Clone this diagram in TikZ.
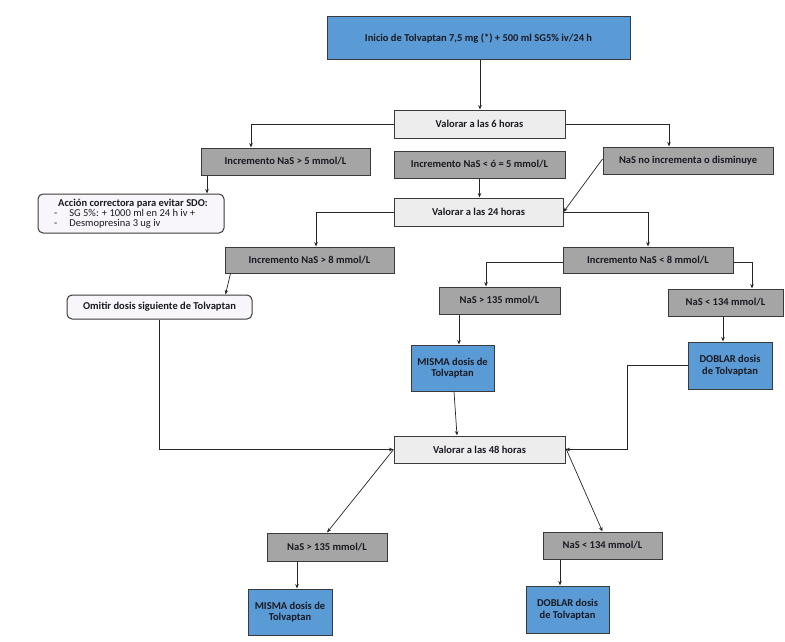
\documentclass[tikz,border=0pt]{standalone}
\usepackage{fontspec}
\setmainfont{Carlito}
\usetikzlibrary{arrows.meta,calc}
\definecolor{bluebox}{HTML}{5B9BD5}
\definecolor{graybox}{HTML}{A5A5A5}
\definecolor{lightbox}{HTML}{EDEDED}
\definecolor{roundfill}{HTML}{F8F6FA}
\definecolor{edge}{HTML}{3A3A3A}
\definecolor{txt}{HTML}{1A1A22}
\begin{document}
\begin{tikzpicture}[x=1pt,y=-1pt,
  font=\fontsize{10.5}{11.5}\selectfont\bfseries,
  box/.style={draw=edge, line width=1pt, inner sep=0pt, align=center, text=txt},
  bluenode/.style={box, fill=bluebox},
  graynode/.style={box, fill=graybox},
  lightnode/.style={box, fill=lightbox},
  roundnode/.style={box, fill=roundfill, rounded corners=5pt},
  arr/.style={draw=black!85, line width=0.7pt, -{Stealth[length=4.5pt,width=3.5pt]}}]
\fill[white] (0,0) rectangle (785,642);
\useasboundingbox (0,0) rectangle (785,642);

% nodes
\node[bluenode, minimum width=303pt, minimum height=43pt] (top) at (478.5,38.5) {Inicio de Tolvaptan 7,5 mg (*) + 500 ml SG5\% iv/24 h};
\node[lightnode, minimum width=171pt, minimum height=28pt] (v6) at (479.5,124) {Valorar a las 6 horas};
\node[graynode, minimum width=169pt, minimum height=27pt] (inc5) at (285.5,161.5) {Incremento NaS > 5 mmol/L};
\node[graynode, minimum width=171pt, minimum height=27pt] (incle5) at (479.5,164.5) {Incremento NaS < ó = 5 mmol/L};
\node[graynode, minimum width=170pt, minimum height=27pt] (noinc) at (688,160.5) {NaS no incrementa o disminuye};
\node[roundnode, minimum width=186pt, minimum height=39pt, align=left] (action) at (131,213.5)
  {\hspace*{4pt}Acción correctora para evitar SDO:\\[-1.5pt]
   {\mdseries -\hspace{12pt}SG 5\%: + 1000 ml en 24 h iv +}\\[-1.5pt]
   {\mdseries -\hspace{12pt}Desmopresina 3 ug iv}};
\node[lightnode, minimum width=169pt, minimum height=28pt] (v24) at (478.5,212) {Valorar a las 24 horas};
\node[graynode, minimum width=169pt, minimum height=26pt] (inc8g) at (309.5,260) {Incremento NaS > 8 mmol/L};
\node[graynode, minimum width=170pt, minimum height=26pt] (inc8l) at (648,260) {Incremento NaS < 8 mmol/L};
\node[roundnode, minimum width=185pt, minimum height=24pt] (omit) at (159.5,307) {Omitir dosis siguiente de Tolvaptan};
\node[graynode, minimum width=121pt, minimum height=27pt] (n135a) at (499.5,300.5) {NaS > 135 mmol/L};
\node[graynode, minimum width=115pt, minimum height=27pt] (n134a) at (725.5,302.5) {NaS < 134 mmol/L};
\node[bluenode, minimum width=83pt, minimum height=46pt] (mis1) at (452.5,368) {MISMA dosis de\\Tolvaptan};
\node[bluenode, minimum width=84pt, minimum height=47pt] (dob1) at (730,365.5) {DOBLAR dosis\\de Tolvaptan};
\node[lightnode, minimum width=171pt, minimum height=27pt] (v48) at (479.5,449.5) {Valorar a las 48 horas};
\node[graynode, minimum width=120pt, minimum height=28pt] (n135b) at (327,547) {NaS > 135 mmol/L};
\node[graynode, minimum width=119pt, minimum height=27pt] (n134b) at (602.5,545.5) {NaS < 134 mmol/L};
\node[bluenode, minimum width=84pt, minimum height=46pt] (mis2) at (290,612) {MISMA dosis de\\Tolvaptan};
\node[bluenode, minimum width=83pt, minimum height=47pt] (dob2) at (567.5,609.5) {DOBLAR dosis\\de Tolvaptan};

% connectors
\draw[arr] ([xshift=1.5pt]top.south) -- ([xshift=1.5pt]top.south |- v6.north);
\draw[arr] (v6.west) -| ([xshift=-34.5pt]inc5.north);
\draw[arr] (v6.east) -| ([xshift=-19pt]noinc.north);
\draw[arr] ([xshift=-78.5pt]inc5.south) -- ([xshift=-78.5pt]inc5.south |- action.north);
\draw[arr] (incle5.south) -- (incle5.south |- v24.north);
\draw[arr] ([yshift=1.5pt]noinc.west) -- (v24.east);
\draw[arr] (v24.west) -| ([xshift=6.5pt]inc8g.north);
\draw[arr] (v24.east) -| (inc8l.north);
\draw[arr] ([xshift=6pt]inc8g.south west) -- ([xshift=159pt]omit.north west);
\draw[arr] ([yshift=-2pt]inc8l.west) -| ([xshift=-13.5pt]n135a.north);
\draw[arr] ([yshift=-2pt]inc8l.east) -| ([xshift=26.5pt]n134a.north);
\draw[arr] ([xshift=-40.5pt]n135a.south) -- ([xshift=-40.5pt]n135a.south |- mis1.north);
\draw[arr] ([xshift=-2.5pt]n134a.south) -- ([xshift=-2.5pt]n134a.south |- dob1.north);
\draw[arr] ([xshift=1.5pt]mis1.south) -- ([xshift=-22.5pt]v48.north);
\draw[arr] (dob1.west) -| ($(v48.east)+(62,0)$) -- (v48.east);
\draw[arr] (omit.south) |- (v48.west);
\draw[arr] (v48.west) -- (n135b.north);
\draw[arr] ([yshift=2pt]v48.east) -- (n134b.north);
\draw[arr] ([xshift=-30pt]n135b.south) -- ([xshift=-30pt]n135b.south |- mis2.north);
\draw[arr] ([xshift=-42.5pt]n134b.south) -- ([xshift=-42.5pt]n134b.south |- dob2.north);
\end{tikzpicture}
\end{document}
